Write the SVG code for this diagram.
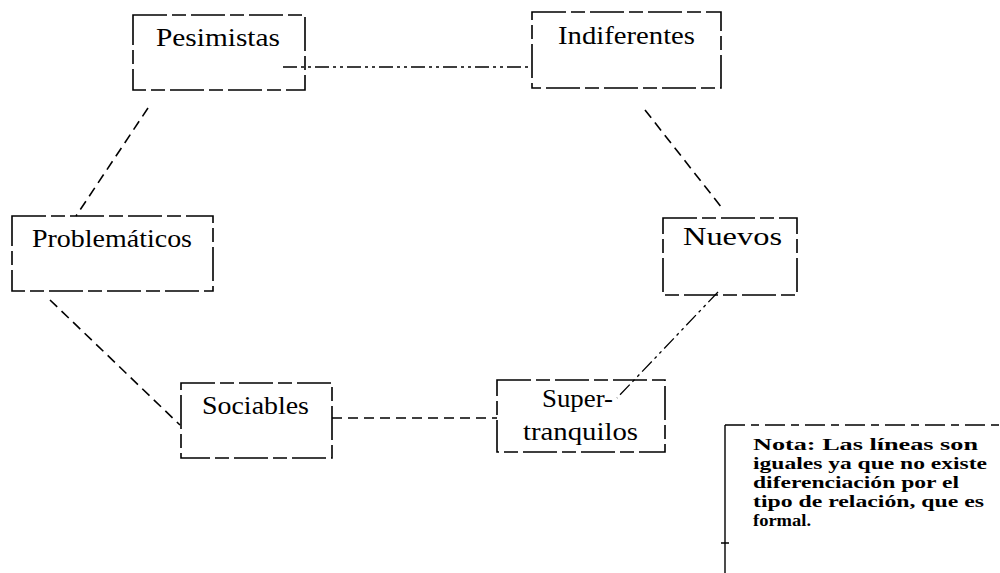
<svg xmlns="http://www.w3.org/2000/svg" width="1000" height="573" viewBox="0 0 1000 573">
<style>
.box{fill:none;stroke:#000;stroke-width:1.6;stroke-dasharray:34 5 14 5}
.lbl{font-family:'Liberation Serif','Times New Roman',serif;font-size:25px;fill:#000}
.con{fill:none;stroke:#000;stroke-width:1.6;stroke-dasharray:10 6}
.dd{fill:none;stroke:#000;stroke-width:1.3;stroke-dasharray:14 4 3 4 3 4}
.note{font-family:'Liberation Serif','Times New Roman',serif;font-size:16px;font-weight:bold;fill:#000}
</style>
<rect width="1000" height="573" fill="#fff"/>
<g id="connectors">
<line class="dd" x1="283" y1="67" x2="532" y2="67"/>
<line class="con" x1="148" y1="108" x2="76" y2="216"/>
<line class="con" x1="645" y1="110" x2="722" y2="208"/>
<line class="dd" x1="718" y1="292" x2="617" y2="398"/>
<line class="con" x1="50" y1="300" x2="180" y2="425"/>
<line class="con" x1="332" y1="418" x2="497" y2="418"/>
</g>
<g id="pesimistas">
<rect class="box" x="133" y="15" width="172" height="75"/>
<text class="lbl" x="156" y="46" textLength="124" lengthAdjust="spacingAndGlyphs">Pesimistas</text>
</g>
<g id="indiferentes">
<rect class="box" x="532" y="12" width="189" height="76"/>
<text class="lbl" x="558" y="44" textLength="137" lengthAdjust="spacingAndGlyphs">Indiferentes</text>
</g>
<g id="problematicos">
<rect class="box" x="12" y="216" width="201" height="75"/>
<text class="lbl" x="32" y="247" textLength="160" lengthAdjust="spacingAndGlyphs">Problemáticos</text>
</g>
<g id="nuevos">
<rect class="box" x="663" y="218" width="134" height="77"/>
<text class="lbl" x="683" y="245" textLength="99" lengthAdjust="spacingAndGlyphs">Nuevos</text>
</g>
<g id="sociables">
<rect class="box" x="181" y="383" width="151" height="75"/>
<text class="lbl" x="202" y="414" textLength="107" lengthAdjust="spacingAndGlyphs">Sociables</text>
</g>
<g id="supertranquilos">
<rect class="box" x="497" y="380" width="168" height="72"/>
<text class="lbl" x="542" y="407" textLength="71" lengthAdjust="spacingAndGlyphs">Super-</text>
<text class="lbl" x="523" y="440" textLength="115" lengthAdjust="spacingAndGlyphs">tranquilos</text>
</g>
<g id="nota">
<path d="M725 425 L1000 425" fill="none" stroke="#000" stroke-width="1.4" stroke-dasharray="20 6 8 6"/>
<path d="M725 425 L725 573 M721 543 L729 543" fill="none" stroke="#000" stroke-width="1.4"/>
<text class="note" x="753" y="450" textLength="225" lengthAdjust="spacingAndGlyphs">Nota: Las líneas son</text>
<text class="note" x="753" y="469" textLength="234" lengthAdjust="spacingAndGlyphs">iguales ya que no existe</text>
<text class="note" x="753" y="488" textLength="206" lengthAdjust="spacingAndGlyphs">diferenciación por el</text>
<text class="note" x="753" y="507" textLength="231" lengthAdjust="spacingAndGlyphs">tipo de relación, que es</text>
<text class="note" x="753" y="526" textLength="58" lengthAdjust="spacingAndGlyphs">formal.</text>
</g>
</svg>
